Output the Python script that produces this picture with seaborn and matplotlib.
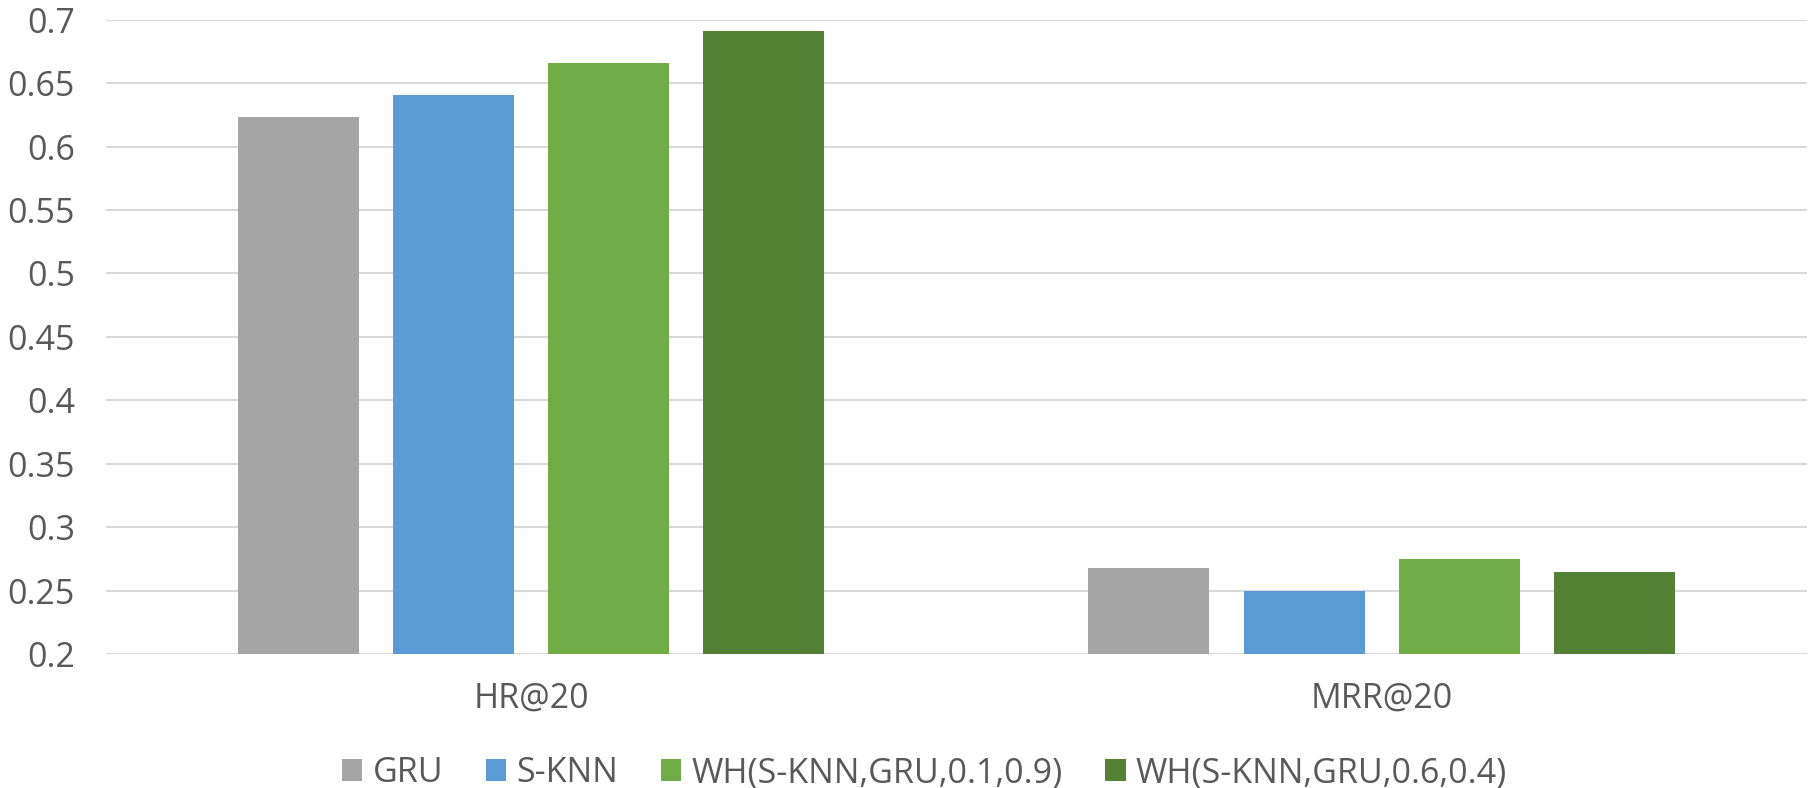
import matplotlib
matplotlib.use("Agg")
import matplotlib.pyplot as plt
import seaborn as sns
import pandas as pd
from matplotlib.patches import Patch

# Metrics and methods
metrics = ["HR@20", "MRR@20"]
methods = ["GRU", "S-KNN", "WH(S-KNN,GRU,0.1,0.9)", "WH(S-KNN,GRU,0.6,0.4)"]
hr_values = [0.623, 0.641, 0.666, 0.691]
mrr_values = [0.268, 0.250, 0.275, 0.265]
y_ticks = [0.2, 0.25, 0.3, 0.35, 0.4, 0.45, 0.5, 0.55, 0.6, 0.65, 0.7]
colors = ["#A5A5A5", "#5B9BD5", "#70AD47", "#548235"]

rows = []
for m, v in zip(methods, hr_values):
    rows.append({"metric": metrics[0], "method": m, "value": v})
for m, v in zip(methods, mrr_values):
    rows.append({"metric": metrics[1], "method": m, "value": v})
df = pd.DataFrame(rows)

sns.set_theme(style="white")
plt.rcParams["font.family"] = ["Open Sans", "DejaVu Sans"]
text_color = "#595959"
fs = 24.5

fig, ax = plt.subplots(figsize=(18.2, 7.88), dpi=100)
fig.subplots_adjust(left=0.058, right=0.993, top=0.975, bottom=0.17)

sns.barplot(data=df, x="metric", y="value", hue="method", hue_order=methods,
            palette=colors, width=0.73, gap=0.22, saturation=1, legend=False,
            ax=ax, zorder=3, linewidth=0)

ax.set_ylim(0.2, 0.7)
ax.set_yticks(y_ticks)
ax.set_yticklabels([f"{t:g}" for t in y_ticks])
ax.set_xlim(-0.5, 1.5)
ax.yaxis.grid(True, color="#D9D9D9", linewidth=1.5, zorder=0)
ax.set_axisbelow(True)
for s in ax.spines.values():
    s.set_visible(False)
ax.tick_params(axis="both", length=0, labelsize=fs, colors=text_color)
ax.tick_params(axis="y", pad=22)
ax.tick_params(axis="x", pad=20)
ax.set_xlabel("")
ax.set_ylabel("")

handles = [Patch(facecolor=c, edgecolor="none") for c in colors]
fig.legend(handles, methods, loc="center", ncol=4, frameon=False,
           bbox_to_anchor=(0.508, 0.019), fontsize=fs, labelcolor=text_color,
           handlelength=0.6, handleheight=0.6, handletextpad=0.3,
           columnspacing=1.25, borderpad=0)

fig.savefig("out.png", dpi=100)
